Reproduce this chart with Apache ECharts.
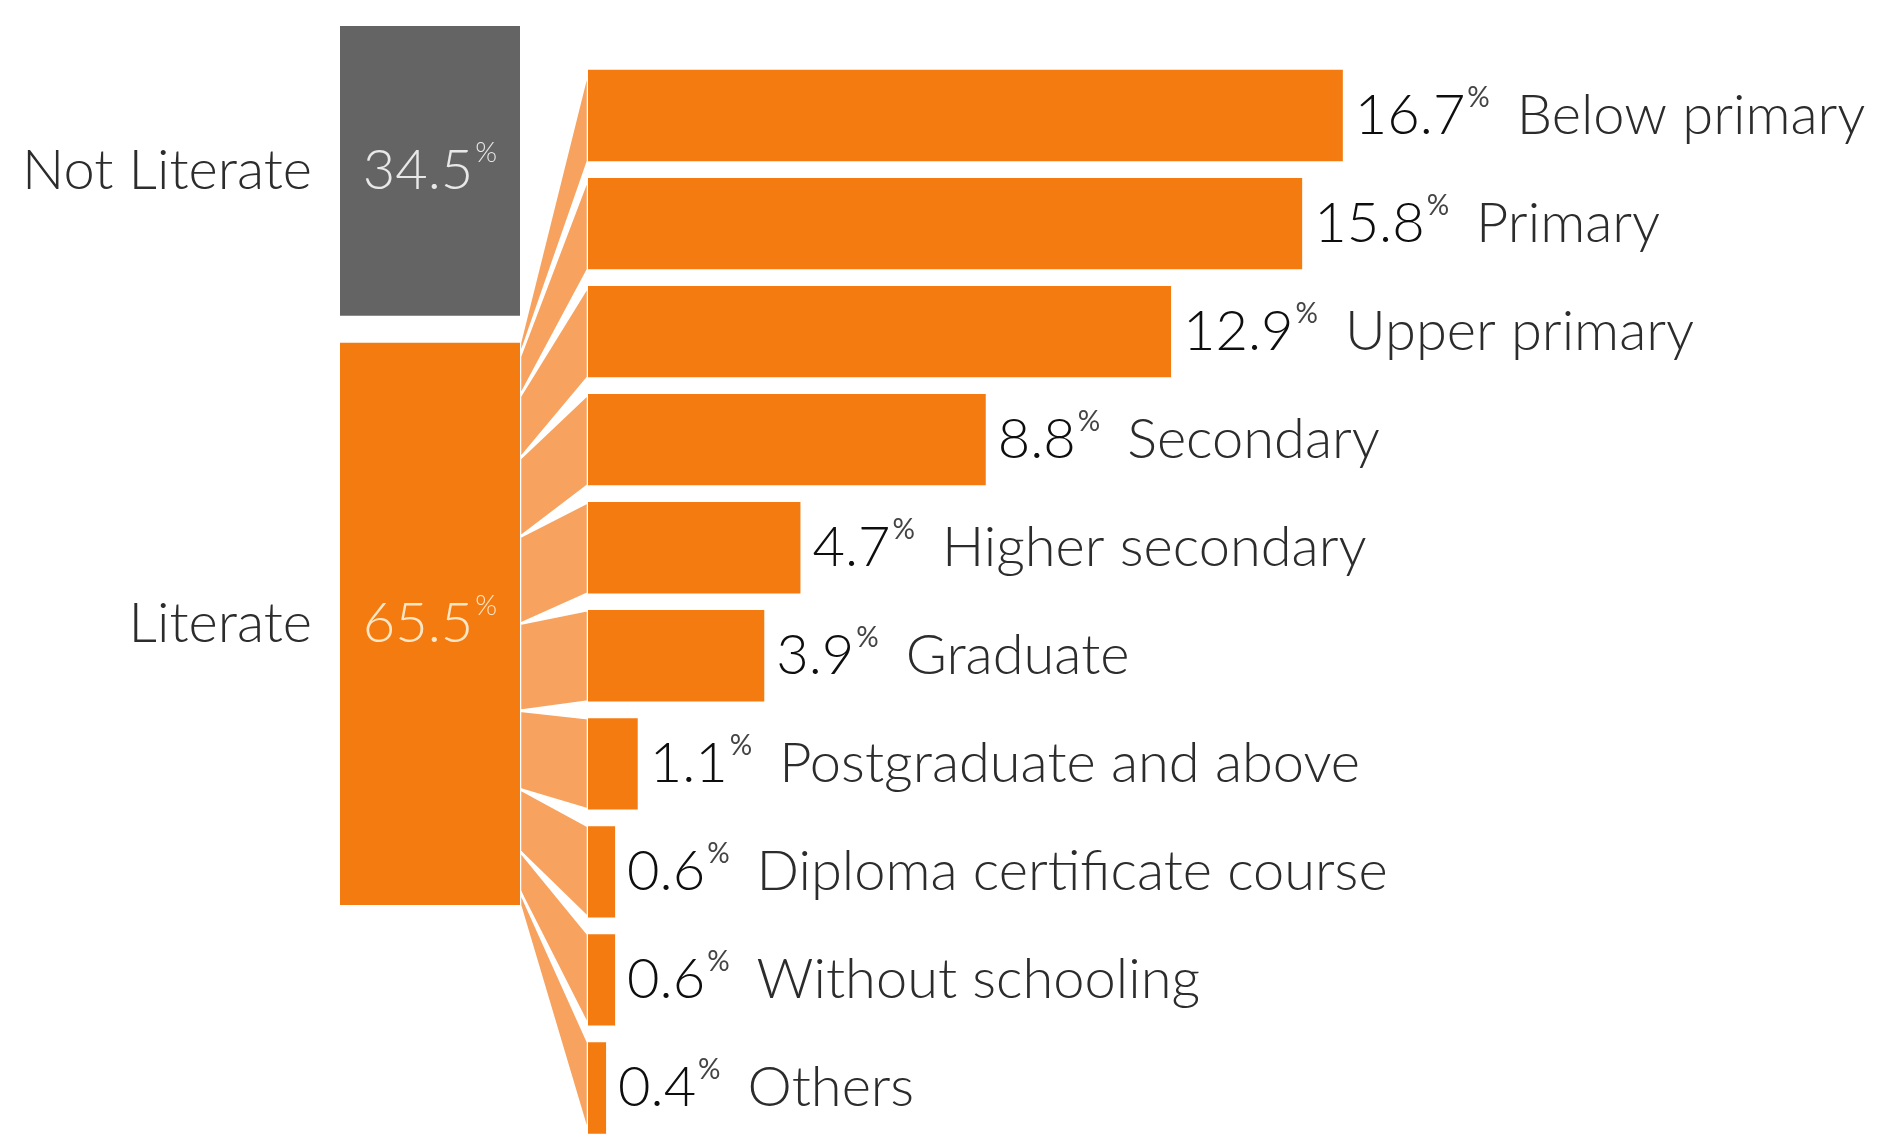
<!DOCTYPE html>
<html>
<head>
<meta charset="utf-8">
<script src="https://cdn.jsdelivr.net/npm/echarts@6/dist/echarts.min.js"></script>
<style>
  html, body { margin: 0; background: #fff; }
  #chart { width: 1885px; height: 1142px; }
</style>
</head>
<body>
<div id="chart"></div>
<script>
// literacy split (left column)
const groupNames = ["Not Literate", "Literate"];
const groupValues = [34.5, 65.5];

// education level of the literate (right bars)
const levelNames = [
  "Below primary", "Primary", "Upper primary", "Secondary", "Higher secondary",
  "Graduate", "Postgraduate and above", "Diploma certificate course",
  "Without schooling", "Others"
];
const levelValues = [16.7, 15.8, 12.9, 8.8, 4.7, 3.9, 1.1, 0.6, 0.6, 0.4];

const ORANGE = "#f47b10";
const LIGHT = "#f7a35f";
const GRAY = "#646464";
const INK = "#0e0e0e";
const SOFT_INK = "#2c2c2c";
const FONT = "Lato";
const GAP = 27;          // white gap between the two blocks of the left column
const BAR_RATIO = 0.845; // bar thickness / row pitch

const chart = echarts.init(document.getElementById("chart"));

// cumulative start/end for the left stack
let acc = 0;
const stackData = groupValues.map((v, i) => {
  const d = [i, acc, acc + v];
  acc += v;
  return d;
});

const valueRich = (fill) => ({
  v: { fontSize: 56, fontFamily: FONT, fontWeight: 300, fill: fill, lineHeight: 64 },
  p: { fontSize: 28, fontFamily: FONT, fontWeight: 300, fill: fill, lineHeight: 42, verticalAlign: "top", padding: [0, 0, 0, 2] }
});

function blockRange(api, i, start, end) {
  const p0 = api.coord([0, start]);
  const p1 = api.coord([1, end]);
  const y0 = p0[1] + (i > 0 ? GAP / 2 : 0);
  const y1 = p1[1] - (i < groupValues.length - 1 ? GAP / 2 : 0);
  return { x0: p0[0], x1: p1[0], y0, y1 };
}

const stackSeries = {
  id: "stack",
  type: "custom",
  xAxisIndex: 0,
  yAxisIndex: 0,
  z: 3,
  data: stackData,
  renderItem: (params, api) => {
    const i = params.dataIndex;
    const r = blockRange(api, i, api.value(1), api.value(2));
    const cx = (r.x0 + r.x1) / 2;
    const cy = (r.y0 + r.y1) / 2;
    const innerFill = i === 0 ? "#e8e8e8" : "#fde6c6";
    return {
      type: "group",
      children: [
        {
          type: "rect",
          shape: { x: r.x0, y: r.y0, width: r.x1 - r.x0, height: r.y1 - r.y0 },
          style: { fill: i === 0 ? GRAY : ORANGE }
        },
        {
          type: "text",
          style: {
            text: "{v|" + groupValues[i] + "}{p|%}",
            rich: valueRich(innerFill),
            x: cx, y: cy, align: "center", verticalAlign: "middle"
          }
        },
        {
          type: "text",
          style: {
            text: groupNames[i],
            fontSize: 56, fontFamily: FONT, fontWeight: 300, fill: SOFT_INK,
            x: r.x0 - 28, y: cy, align: "right", verticalAlign: "middle"
          }
        }
      ]
    };
  }
};

const barSeries = {
  id: "bars",
  type: "bar",
  xAxisIndex: 1,
  yAxisIndex: 1,
  z: 3,
  barWidth: (BAR_RATIO * 100) + "%",
  data: levelValues,
  itemStyle: { color: ORANGE },
  label: {
    show: true,
    position: "right",
    distance: 12,
    formatter: (p) => "{v|" + p.value + "}{p|%}{n|" + levelNames[p.dataIndex] + "}",
    rich: {
      v: { fontSize: 56, fontFamily: FONT, fontWeight: 300, color: INK, lineHeight: 64 },
      p: { fontSize: 28, fontFamily: FONT, fontWeight: 400, color: "#444", lineHeight: 42, verticalAlign: "top", padding: [0, 0, 0, 2] },
      n: { fontSize: 56, fontFamily: FONT, fontWeight: 300, color: SOFT_INK, lineHeight: 64, padding: [0, 0, 0, 27] }
    }
  }
};

chart.setOption({
  animation: false,
  backgroundColor: "#ffffff",
  grid: [
    { left: 340, width: 180, top: 26, height: 879 },
    { left: 588, width: 1130, top: 61.5, height: 1100 }
  ],
  xAxis: [
    { gridIndex: 0, type: "value", min: 0, max: 1, show: false },
    { gridIndex: 1, type: "value", min: 0, max: 25, show: false }
  ],
  yAxis: [
    { gridIndex: 0, type: "value", min: 0, max: 100, inverse: true, show: false },
    { gridIndex: 1, type: "category", data: levelNames, inverse: true, show: false }
  ],
  series: [stackSeries, barSeries]
});

// fan from the Literate block to each bar: left ends spread along the block
const litTop = chart.convertToPixel({ gridIndex: 0 }, [1, groupValues[0]]);
const litBot = chart.convertToPixel({ gridIndex: 0 }, [1, groupValues[0] + groupValues[1]]);
const fanX = litTop[0];
const fanY0 = litTop[1] + GAP / 2;
const fanY1 = litBot[1];
const n = levelValues.length;
const spread = (k) => (1 - Math.cos(Math.PI * k / n)) / 2;

chart.setOption({
  series: [{
    id: "fan",
    type: "custom",
    xAxisIndex: 1,
    yAxisIndex: 1,
    z: 1,
    data: levelValues.map((v, i) => [0, i]),
    renderItem: (params, api) => {
      const i = params.dataIndex;
      const c = api.coord([0, i]);
      const half = api.size([0, 1])[1] * BAR_RATIO / 2;
      const lt = fanY0 + (fanY1 - fanY0) * spread(i);
      const lb = fanY0 + (fanY1 - fanY0) * spread(i + 1);
      return {
        type: "polygon",
        shape: { points: [[fanX, lt], [c[0], c[1] - half], [c[0], c[1] + half], [fanX, lb]] },
        style: { fill: LIGHT, stroke: "#ffffff", lineWidth: 2.5 }
      };
    }
  }]
});
</script>
</body>
</html>
